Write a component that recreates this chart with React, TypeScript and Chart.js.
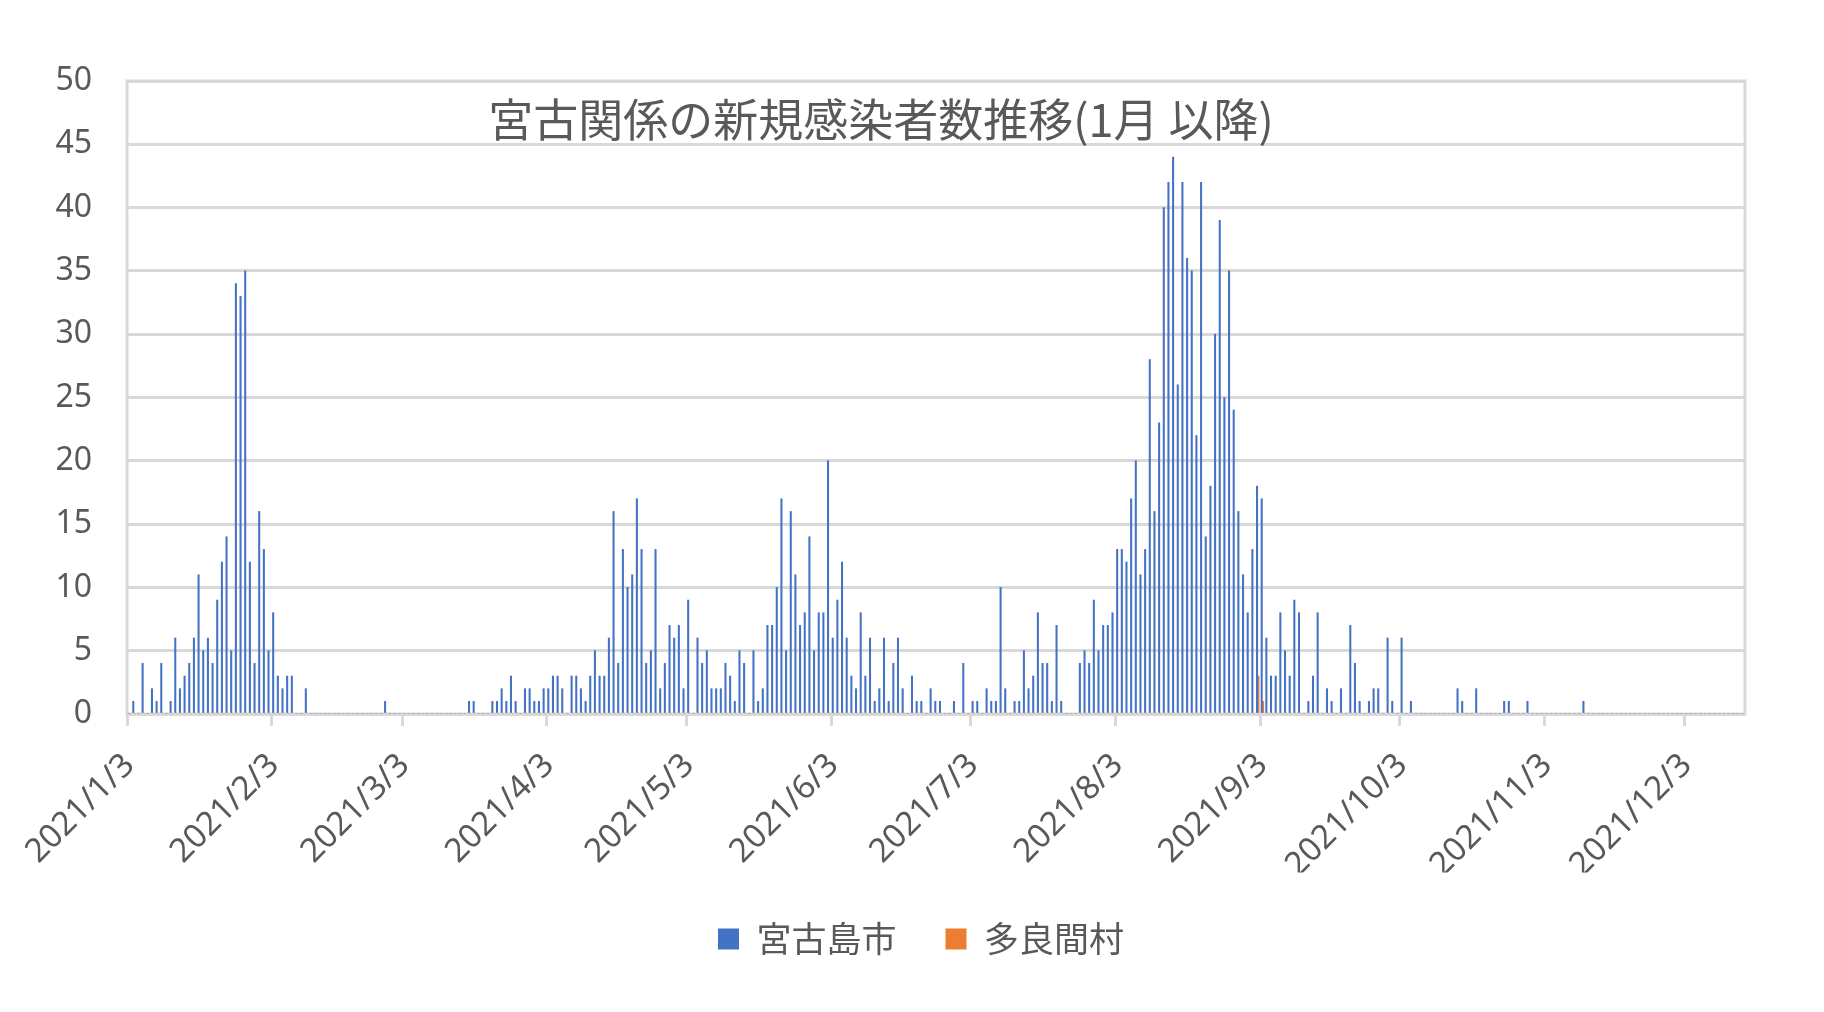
import React, { useEffect, useRef } from 'react';
import { Chart, registerables } from 'chart.js';

Chart.register(...registerables);

// ---- categories: one per day, 2021/1/3 .. 2021/12/15 ----
const START_YEAR = 2021;
const START_MONTH = 1;
const START_DAY = 3;
const DAY_COUNT = 347;

// ---- 宮古島市 daily values (per calendar month) ----
const miyakoJan = [0, 1, 0, 4, 0, 2, 1, 4, 0, 1, 6, 2, 3, 4, 6, 11, 5, 6, 4, 9, 12, 14, 5, 34, 33, 35, 12, 4, 16]; // 1/3-1/31
const miyakoFeb = [13, 5, 8, 3, 2, 3, 3, 0, 0, 2, 0, 0, 0, 0, 0, 0, 0, 0, 0, 0, 0, 0, 0, 0, 0, 0, 1, 0];
const miyakoMar = [0, 0, 0, 0, 0, 0, 0, 0, 0, 0, 0, 0, 0, 0, 0, 0, 1, 1, 0, 0, 0, 1, 1, 2, 1, 3, 1, 0, 2, 2, 1];
const miyakoApr = [1, 2, 2, 3, 3, 2, 0, 3, 3, 2, 1, 3, 5, 3, 3, 6, 16, 4, 13, 10, 11, 17, 13, 4, 5, 13, 2, 4, 7, 6];
const miyakoMay = [7, 2, 9, 0, 6, 4, 5, 2, 2, 2, 4, 3, 1, 5, 4, 0, 5, 1, 2, 7, 7, 10, 17, 5, 16, 11, 7, 8, 14, 5, 8];
const miyakoJun = [8, 20, 6, 9, 12, 6, 3, 2, 8, 3, 6, 1, 2, 6, 1, 4, 6, 2, 0, 3, 1, 1, 0, 2, 1, 1, 0, 0, 1, 0];
const miyakoJul = [4, 0, 1, 1, 0, 2, 1, 1, 10, 2, 0, 1, 1, 5, 2, 3, 8, 4, 4, 1, 7, 1, 0, 0, 0, 4, 5, 4, 9, 5, 7];
const miyakoAug = [7, 8, 13, 13, 12, 17, 20, 11, 13, 28, 16, 23, 40, 42, 44, 26, 42, 36, 35, 22, 42, 14, 18, 30, 39, 25, 35, 24, 16, 11, 8];
const miyakoSep = [13, 18, 17, 6, 3, 3, 8, 5, 3, 9, 8, 0, 1, 3, 8, 0, 2, 1, 0, 2, 0, 7, 4, 1, 0, 1, 2, 2, 0, 6];
const miyakoOct = [1, 0, 6, 0, 1, 0, 0, 0, 0, 0, 0, 0, 0, 0, 2, 1, 0, 0, 2, 0, 0, 0, 0, 0, 1, 1, 0, 0, 0, 1, 0];
const miyakoNov = [0, 0, 0, 0, 0, 0, 0, 0, 0, 0, 1, 0, 0, 0, 0, 0, 0, 0, 0, 0, 0, 0, 0, 0, 0, 0, 0, 0, 0, 0];
const miyakoDec = [0, 0, 0, 0, 0, 0, 0, 0, 0, 0, 0, 0, 0, 0, 0]; // 12/1-12/15

// ---- 多良間村 (only non-zero days) ----
const taramaDates = ['2021/9/2', '2021/9/3'];
const taramaValues = [3, 1];

// ---- y ticks ----
const Y_MIN = 0;
const Y_MAX = 50;
const Y_STEP = 5;

const TITLE = '宮古関係の新規感染者数推移(1月 以降)';
const SERIES_NAMES = ['宮古島市', '多良間村'];
const COLORS = ['#4472C4', '#ED7D31'];
const TEXT_COLOR = '#595959';
const GRID_COLOR = '#d9d9d9';

function buildLabels(): string[] {
  const out: string[] = [];
  for (let i = 0; i < DAY_COUNT; i++) {
    const d = new Date(Date.UTC(START_YEAR, START_MONTH - 1, START_DAY + i));
    out.push(`${d.getUTCFullYear()}/${d.getUTCMonth() + 1}/${d.getUTCDate()}`);
  }
  return out;
}

const labels = buildLabels();
const miyakoSeries = [
  ...miyakoJan, ...miyakoFeb, ...miyakoMar, ...miyakoApr, ...miyakoMay, ...miyakoJun,
  ...miyakoJul, ...miyakoAug, ...miyakoSep, ...miyakoOct, ...miyakoNov, ...miyakoDec,
];
const taramaSeries = labels.map((l) => {
  const k = taramaDates.indexOf(l);
  return k >= 0 ? taramaValues[k] : 0;
});

const isMonthTick = (i: number) => i >= 0 && i < labels.length && labels[i].endsWith('/3');

const boxPlugin = {
  id: 'plotBox',
  beforeDatasetsDraw(chart: any) {
    const { ctx, chartArea } = chart;
    ctx.save();
    ctx.strokeStyle = GRID_COLOR;
    ctx.lineWidth = 3;
    ctx.strokeRect(chartArea.left, chartArea.top, chartArea.right - chartArea.left, chartArea.bottom - chartArea.top);
    ctx.restore();
  },
};

const titlePlugin = {
  id: 'overlayTitle',
  afterDraw(chart: any) {
    const { ctx } = chart;
    ctx.save();
    ctx.font = '45px "Noto Sans CJK JP", sans-serif';
    ctx.fillStyle = TEXT_COLOR;
    ctx.textAlign = 'center';
    ctx.textBaseline = 'middle';
    ctx.fillText(TITLE, 881, 120);
    ctx.restore();
  },
};

export default function App() {
  const ref = useRef<HTMLCanvasElement | null>(null);
  useEffect(() => {
    if (!ref.current) return;
    const chart = new Chart(ref.current, {
      type: 'bar',
      data: {
        labels,
        datasets: [
          { label: SERIES_NAMES[0], data: miyakoSeries, backgroundColor: COLORS[0], barThickness: 1.4 },
          { label: SERIES_NAMES[1], data: taramaSeries, backgroundColor: COLORS[1], barThickness: 1.4 },
        ],
      },
      options: {
        animation: false,
        responsive: false,
        maintainAspectRatio: false,
        layout: { padding: { left: 18, right: 0, top: 81, bottom: 45.5 } },
        plugins: {
          legend: {
            position: 'bottom',
            align: 'center',
            labels: {
              boxWidth: 21,
              boxHeight: 21,
              padding: 49,
              color: TEXT_COLOR,
              font: { family: '"Noto Sans CJK JP", sans-serif', size: 35 },
            },
          },
          tooltip: { enabled: false },
          title: { display: false },
        },
        scales: {
          x: {
            type: 'category',
            offset: true,
            grid: {
              display: true,
              offset: true,
              drawOnChartArea: false,
              drawTicks: true,
              tickLength: 12,
              lineWidth: 3,
              color: (c: any) => (isMonthTick(c.index) ? GRID_COLOR : 'rgba(0,0,0,0)'),
            },
            border: { display: false },
            ticks: {
              autoSkip: false,
              minRotation: 45,
              maxRotation: 45,
              padding: 20,
              color: TEXT_COLOR,
              font: { family: '"Noto Sans", "Noto Sans CJK JP", sans-serif', size: 33 },
              callback: (_v: any, i: number) => (isMonthTick(i) ? labels[i] : ''),
            },
            afterFit: (s: any) => {
              s.height = 158.5;
            },
          },
          y: {
            min: Y_MIN,
            max: Y_MAX,
            ticks: {
              stepSize: Y_STEP,
              padding: 35,
              color: TEXT_COLOR,
              font: { family: '"Noto Sans", "Noto Sans CJK JP", sans-serif', size: 32 },
            },
            grid: { color: GRID_COLOR, lineWidth: 3, drawTicks: false },
            border: { display: false },
            afterFit: (s: any) => {
              s.width = 109;
            },
          },
          y2: {
            position: 'right',
            display: true,
            grid: { display: false },
            ticks: { display: false },
            border: { display: false },
            afterFit: (s: any) => {
              s.width = 79;
            },
          },
        },
      } as any,
      plugins: [boxPlugin, titlePlugin],
    });
    return () => chart.destroy();
  }, []);

  return (
    <div style={{ position: 'absolute', left: 0, top: 0, width: 1824, height: 1012, background: '#fff' }}>
      <canvas ref={ref} width={1824} height={1012} style={{ display: 'block', width: 1824, height: 1012 }} />
    </div>
  );
}
